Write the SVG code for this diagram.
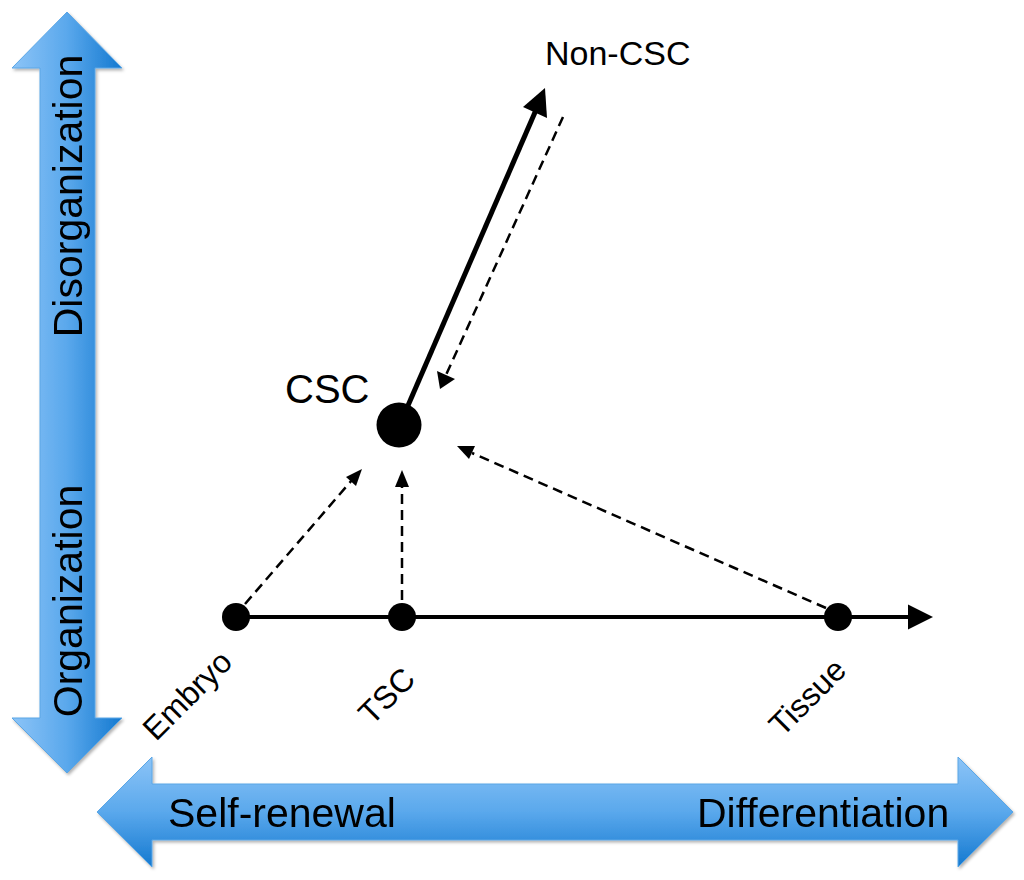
<svg xmlns="http://www.w3.org/2000/svg" width="1024" height="880" viewBox="0 0 1024 880">
  <style>
    .lbl { font-family: "Liberation Sans", Arial, sans-serif; fill: #000; }
    .axis { font-family: "Liberation Sans", Arial, sans-serif; fill: #000; font-size: 41px; }
    .solid { stroke: #000; stroke-width: 4; fill: none; }
    .dash { stroke: #000; stroke-width: 2.5; fill: none; stroke-dasharray: 10 6; }
    .blue { stroke: #5aa6e6; stroke-width: 1; }
  </style>
  <defs>
    <linearGradient id="gv" x1="0" y1="0" x2="1" y2="0">
      <stop offset="0" stop-color="#8cc4f7"/>
      <stop offset="0.5" stop-color="#5aa8ec"/>
      <stop offset="1" stop-color="#1479d0"/>
    </linearGradient>
    <linearGradient id="gh" x1="0" y1="0" x2="0" y2="1">
      <stop offset="0" stop-color="#8cc4f7"/>
      <stop offset="0.5" stop-color="#5aa8ec"/>
      <stop offset="1" stop-color="#1479d0"/>
    </linearGradient>
    <filter id="sh" x="-10%" y="-10%" width="120%" height="120%">
      <feDropShadow dx="1.5" dy="2" stdDeviation="1.5" flood-color="#000" flood-opacity="0.3"/>
    </filter>
  </defs>
  <rect width="1024" height="880" fill="#fff"/>

  <g id="axis-vertical" filter="url(#sh)">
    <path class="blue" fill="url(#gv)" d="M67,12 L122,68 L95,68 L95,718 L122,718 L67,773 L12,718 L40,718 L40,68 L12,68 Z"/>
    <text class="axis" text-anchor="middle" transform="translate(82,196) rotate(-90)">Disorganization</text>
    <text class="axis" text-anchor="middle" transform="translate(82,601) rotate(-90)">Organization</text>
  </g>

  <g id="axis-horizontal" filter="url(#sh)">
    <path class="blue" fill="url(#gh)" d="M97,812 L152,757 L152,784 L958,784 L958,757 L1013,812 L958,867 L958,840 L152,840 L152,867 Z"/>
    <text class="axis" x="168" y="827">Self-renewal</text>
    <text class="axis" x="697" y="827">Differentiation</text>
  </g>

  <g id="connectors">
    <line class="solid" x1="236" y1="617" x2="912" y2="617"/>
    <path d="M908,604.5 L933,617 L908,629.5 Z" fill="#000"/>
    <line class="solid" x1="400" y1="424" x2="536" y2="110" style="stroke-width:5"/>
    <path d="M545,88 L547,118 L523,107 Z" fill="#000"/>
    <line class="dash" x1="563" y1="117" x2="446" y2="375"/>
    <path d="M440,389 L437,371 L455,379 Z" fill="#000"/>
    <line class="dash" x1="245" y1="604" x2="352" y2="480"/>
    <path d="M362,469 L356,486 L346,477 Z" fill="#000"/>
    <line class="dash" x1="402" y1="600" x2="402" y2="486"/>
    <path d="M402,470 L409,487 L395,487 Z" fill="#000"/>
    <line class="dash" x1="826" y1="608" x2="472" y2="453"/>
    <path d="M457,446 L475,446 L469,459 Z" fill="#000"/>
  </g>

  <g id="node-embryo">
    <circle cx="236" cy="617" r="14" fill="#000"/>
    <text class="lbl" font-size="32" text-anchor="end" transform="translate(234,664) rotate(-45)">Embryo</text>
  </g>
  <g id="node-tsc">
    <circle cx="402" cy="617" r="14" fill="#000"/>
    <text class="lbl" font-size="32" text-anchor="end" transform="translate(417,681) rotate(-45)">TSC</text>
  </g>
  <g id="node-tissue">
    <circle cx="838" cy="617" r="14" fill="#000"/>
    <text class="lbl" font-size="32" text-anchor="end" transform="translate(848,672) rotate(-45)">Tissue</text>
  </g>
  <g id="node-csc">
    <circle cx="399" cy="425" r="22.5" fill="#000"/>
    <text class="lbl" font-size="40" x="285" y="403">CSC</text>
  </g>
  <g id="node-noncsc">
    <text class="lbl" font-size="34" x="545" y="65">Non-CSC</text>
  </g>
</svg>
